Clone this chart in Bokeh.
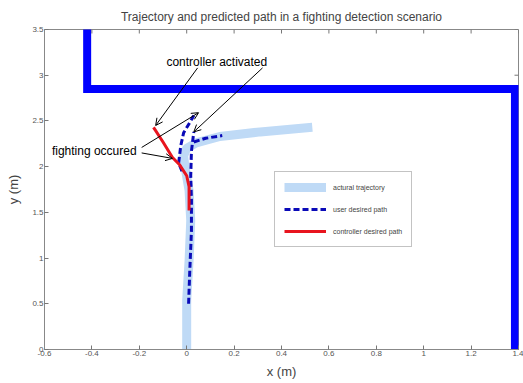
import math
from bokeh.plotting import figure
from bokeh.models import (Range1d, FixedTicker, Legend, LegendItem,
                          Arrow, OpenHead, Label)
from bokeh.embed import file_html
from bokeh.resources import INLINE

# ---------------- data ----------------
title_text = "Trajectory and predicted path in a fighting detection scenario"

wall_x = [-0.42, -0.42, 1.385, 1.385]
wall_y = [3.6, 2.85, 2.85, -0.1]

actual_x = [0.0, 0.0, 0.01, 0.017, 0.01, -0.008, -0.013, 0.0, 0.04, 0.14, 0.31, 0.53]
actual_y = [0.0, 0.54, 0.97, 1.41, 1.74, 2.01, 2.12, 2.2, 2.26, 2.33, 2.38, 2.43]

user_x = [0.008, 0.013, 0.02, 0.02, 0.017, 0.02, 0.03]
user_y = [0.5, 0.86, 1.3, 1.63, 1.9, 2.17, 2.38]
user_hook_x = [0.03, 0.08, 0.15]
user_hook_y = [2.27, 2.31, 2.34]
user_branch_x = [-0.02, -0.034, -0.025, -0.013, 0.017, 0.03]
user_branch_y = [1.95, 2.04, 2.23, 2.37, 2.5, 2.56]

ctrl_x = [0.01, 0.01, 0.0, -0.03, -0.06, -0.1, -0.14]
ctrl_y = [1.52, 1.78, 1.9, 2.02, 2.1, 2.27, 2.43]

legend_labels = ["actural trajectory", "user desired path", "controller desired path"]

x_ticks = [-0.6, -0.4, -0.2, 0, 0.2, 0.4, 0.6, 0.8, 1.0, 1.2, 1.4]
x_tick_labels = ["-0.6", "-0.4", "-0.2", "0", "0.2", "0.4", "0.6", "0.8", "1", "1.2", "1.4"]
y_ticks = [0, 0.5, 1.0, 1.5, 2.0, 2.5, 3.0, 3.5]
y_tick_labels = ["0", "0.5", "1", "1.5", "2", "2.5", "3", "3.5"]

note_texts = ["controller activated", "fighting occured"]
note_x = [0.127, -0.39]
note_y = [3.15, 2.17]

arrow_x0 = [0.046, 0.32, -0.19, -0.19]
arrow_y0 = [3.08, 3.08, 2.21, 2.15]
arrow_x1 = [-0.131, 0.03, 0.05, -0.06]
arrow_y1 = [2.45, 2.38, 2.59, 2.09]

X_MIN, X_MAX = -0.6, 1.4
Y_MIN, Y_MAX = 0.0, 3.5

# ---------------- figure ----------------
FONT = "Liberation Sans"
p = figure(width=523, height=383, output_backend="svg", toolbar_location=None,
           x_range=Range1d(X_MIN, X_MAX), y_range=Range1d(Y_MIN, Y_MAX),
           title=title_text, min_border_left=44, min_border_right=5,
           min_border_top=29, min_border_bottom=34)
p.title.text_font = FONT
p.title.text_font_size = "12px"
p.title.text_font_style = "normal"
p.title.align = "center"
p.title.standoff = 12
p.title.offset = 0
p.grid.visible = False
p.outline_line_color = "#888888"
p.background_fill_color = "white"
p.border_fill_color = "white"

def style_axis(ax, ticks, labels):
    ax.ticker = FixedTicker(ticks=ticks)
    ax.major_label_overrides = {t: l for t, l in zip(ticks, labels)}
    ax.major_tick_in = 4
    ax.major_tick_out = 0
    ax.minor_tick_in = 0
    ax.minor_tick_out = 0
    ax.major_tick_line_color = "#777777"
    ax.axis_line_color = "#888888"
    ax.major_label_text_font = FONT
    ax.major_label_text_font_size = "8px"
    ax.major_label_text_color = "#555555"
    ax.major_label_standoff = 1
    ax.axis_label_text_font = FONT
    ax.axis_label_text_font_size = "13px"
    ax.axis_label_text_font_style = "normal"

style_axis(p.xaxis[0], x_ticks, x_tick_labels)
style_axis(p.yaxis[0], y_ticks, y_tick_labels)
p.xaxis[0].axis_label = "x (m)"
p.yaxis[0].axis_label = "y (m)"
p.xaxis[0].axis_label_standoff = 5
p.yaxis[0].axis_label_standoff = 8

# MATLAB-style inward ticks on the top and right edges
p.ray(x=x_ticks, y=[Y_MAX] * len(x_ticks), length=4, length_units="screen",
      angle=-math.pi / 2, line_color="#777777", line_width=1)
p.ray(x=[X_MAX] * len(y_ticks), y=y_ticks, length=4, length_units="screen",
      angle=math.pi, line_color="#777777", line_width=1)

# walls
p.line(wall_x, wall_y, line_color="#0000ff", line_width=8, line_join="miter")

r_act = p.line(actual_x, actual_y, line_color="#bfdaf6", line_width=9, line_cap="butt")
r_user = p.line(user_x, user_y, line_color="#0a0ab8", line_width=3, line_dash="6 3")
p.line(user_hook_x, user_hook_y, line_color="#0a0ab8", line_width=3, line_dash="6 3")
p.line(user_branch_x, user_branch_y, line_color="#0a0ab8", line_width=3, line_dash="6 3")
r_ctrl = p.line(ctrl_x, ctrl_y, line_color="#e8141e", line_width=3)

legend = Legend(items=[LegendItem(label=legend_labels[0], renderers=[r_act]),
                       LegendItem(label=legend_labels[1], renderers=[r_user]),
                       LegendItem(label=legend_labels[2], renderers=[r_ctrl])],
                location=(230, 102))
legend.label_text_font = FONT
legend.label_text_font_size = "7px"
legend.label_text_color = "#444444"
legend.glyph_width = 42
legend.glyph_height = 12
legend.spacing = 10
legend.padding = 9
legend.margin = 0
legend.label_standoff = 7
legend.label_height = 12
legend.border_line_color = "#888888"
legend.background_fill_alpha = 1.0
p.add_layout(legend)

for i in range(len(arrow_x0)):
    p.add_layout(Arrow(end=OpenHead(size=7, line_width=1, line_color="black"),
                       x_start=arrow_x0[i], y_start=arrow_y0[i],
                       x_end=arrow_x1[i], y_end=arrow_y1[i],
                       line_width=1, line_color="black"))

for t, x, y in zip(note_texts, note_x, note_y):
    p.add_layout(Label(x=x, y=y, text=t, text_font=FONT, text_font_size="12px",
                       text_align="center", text_baseline="middle", text_color="black"))

open("out.html", "w").write(file_html(p, INLINE))
